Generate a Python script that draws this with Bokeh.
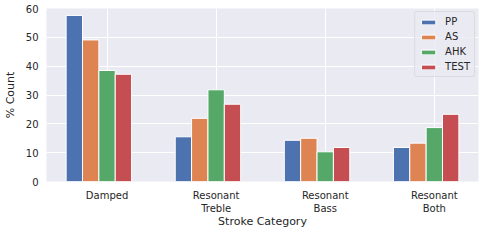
from bokeh.plotting import figure
from bokeh.embed import file_html
from bokeh.resources import INLINE
from bokeh.models import ColumnDataSource, Range1d, FixedTicker, Legend, LegendItem

categories = ["Damped", "Resonant\nTreble", "Resonant\nBass", "Resonant\nBoth"]
series_names = ["PP", "AS", "AHK", "TEST"]
pp = [57.6, 15.5, 14.3, 11.8]
as_ = [49.1, 21.9, 15.0, 13.3]
ahk = [38.5, 31.8, 10.3, 18.7]
test = [37.2, 26.8, 11.8, 23.3]
colors = ["#4C72B0", "#DD8452", "#55A868", "#C44E52"]
yticks = [0, 10, 20, 30, 40, 50, 60]

FONT = "DejaVu Sans"
TXT = "#262626"

p = figure(width=482, height=233, output_backend="svg", toolbar_location=None,
           x_range=Range1d(-0.555, 3.405), y_range=Range1d(0, 60),
           min_border_left=41, min_border_top=8, min_border_right=4, min_border_bottom=52)
p.background_fill_color = "#EAEAF2"
p.outline_line_color = None
p.border_fill_color = "white"

width = 0.15
offsets = [-0.3, -0.15, 0.0, 0.15]
items = []
for name, vals, off, c in zip(series_names, [pp, as_, ahk, test], offsets, colors):
    xs = [i + off for i in range(len(categories))]
    src = ColumnDataSource(dict(x=xs, top=vals))
    r = p.vbar(x="x", top="top", width=width, bottom=0, source=src,
               fill_color=c, line_color="white", line_width=1)
    items.append(LegendItem(label=name, renderers=[r]))

legend = Legend(items=items, location="top_right")
legend.margin = 3
legend.padding = 4
legend.spacing = 4
legend.label_height = 10
legend.glyph_height = 6
legend.glyph_width = 18
legend.label_standoff = 8
legend.label_text_font = FONT
legend.label_text_font_size = "10px"
legend.label_text_color = TXT
legend.background_fill_color = "#EAEAF2"
legend.background_fill_alpha = 0.8
legend.border_line_color = "#cccccc"
legend.border_radius = 3
p.add_layout(legend)

p.xaxis.ticker = FixedTicker(ticks=list(range(len(categories))))
p.xaxis.major_label_overrides = {i: c for i, c in enumerate(categories)}
p.yaxis.ticker = FixedTicker(ticks=yticks)

for ax in (p.xaxis, p.yaxis):
    ax.axis_line_color = None
    ax.major_tick_line_color = None
    ax.minor_tick_line_color = None
    ax.major_tick_out = 0
    ax.major_tick_in = 0
    ax.major_label_text_font = FONT
    ax.major_label_text_font_size = "10px"
    ax.major_label_text_color = TXT
    ax.major_label_standoff = 8
    ax.axis_label_text_font = FONT
    ax.axis_label_text_font_size = "11px"
    ax.axis_label_text_font_style = "normal"
    ax.axis_label_text_color = TXT

p.xaxis.axis_label = "Stroke Category"
p.yaxis.axis_label = "% Count"
p.xaxis.axis_label_standoff = -2
p.yaxis.axis_label_standoff = 6

p.xgrid.grid_line_color = "white"
p.ygrid.grid_line_color = "white"
p.xgrid.grid_line_width = 1
p.ygrid.grid_line_width = 1

open("out.html", "w").write(file_html(p, INLINE))
